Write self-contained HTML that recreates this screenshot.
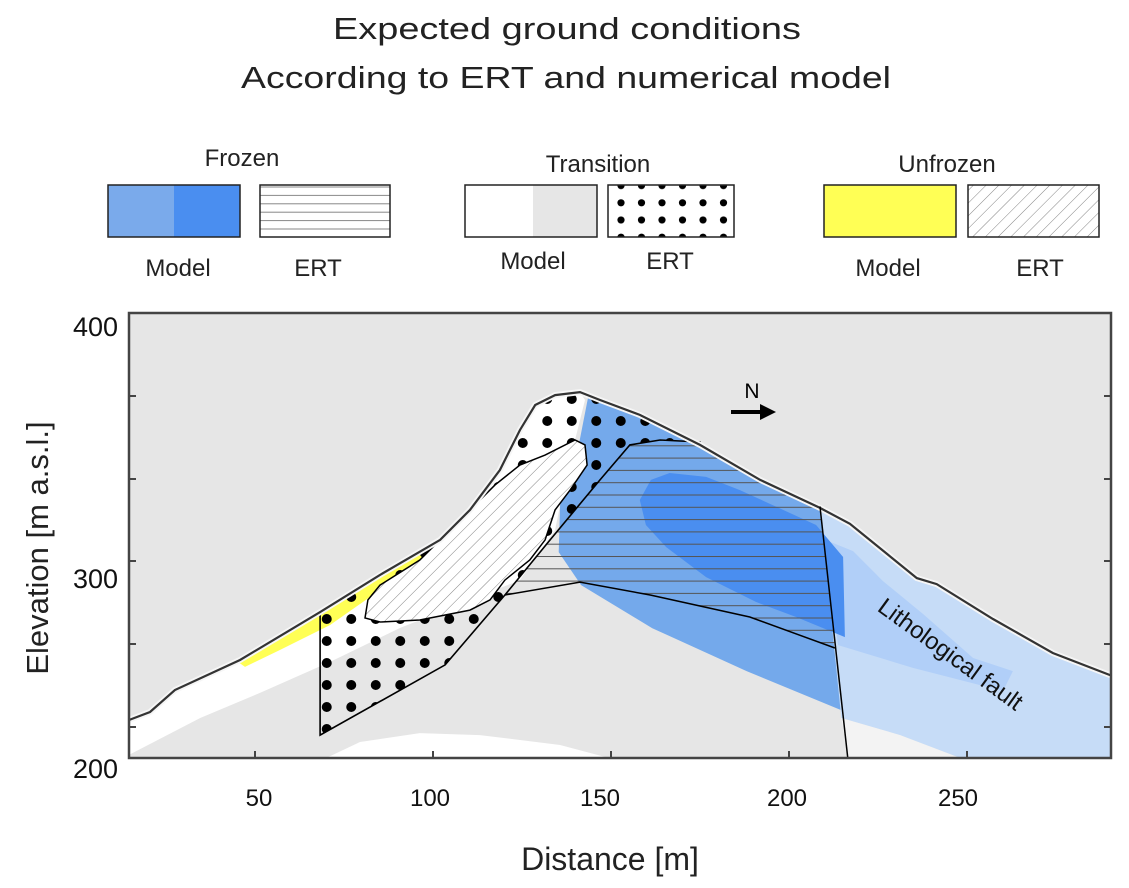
<!DOCTYPE html>
<html><head><meta charset="utf-8">
<style>
html,body{margin:0;padding:0;background:#fff;}
svg{display:block;font-family:"Liberation Sans",sans-serif;}
</style></head>
<body>
<svg id="fig" width="1129" height="888" viewBox="0 0 1129 888" xmlns="http://www.w3.org/2000/svg">
<defs>
  <pattern id="hl" patternUnits="userSpaceOnUse" width="8" height="12.3" y="2"><line x1="0" y1="1" x2="8" y2="1" stroke="#555" stroke-width="1"/></pattern>
  <pattern id="dg" patternUnits="userSpaceOnUse" width="9" height="9" patternTransform="rotate(45)"><line x1="0" y1="0" x2="0" y2="9" stroke="#777" stroke-width="0.9"/></pattern>
  <pattern id="dt" patternUnits="userSpaceOnUse" x="314.5" y="608" width="24.5" height="22"><circle cx="12.25" cy="11" r="5" fill="#000"/></pattern>
  <pattern id="dtl" patternUnits="userSpaceOnUse" x="611" y="177" width="20.5" height="17.2"><circle cx="10" cy="8.6" r="3.6" fill="#000"/></pattern>
  <pattern id="hll" patternUnits="userSpaceOnUse" width="8" height="8.4" y="186"><line x1="0" y1="1" x2="8" y2="1" stroke="#888" stroke-width="1"/></pattern>
</defs>

<text x="567" y="39" text-anchor="middle" font-size="31" fill="#222" textLength="468" lengthAdjust="spacingAndGlyphs">Expected ground conditions</text>
<text x="566" y="88" text-anchor="middle" font-size="31" fill="#222" textLength="650" lengthAdjust="spacingAndGlyphs">According to ERT and numerical model</text>

<g font-size="24" fill="#222">
  <text x="242" y="166" text-anchor="middle">Frozen</text>
  <g>
    <rect x="108" y="185" width="66" height="52" fill="#7aaaeb"/>
    <rect x="174" y="185" width="66" height="52" fill="#4a8ef0"/>
    <rect x="108" y="185" width="132" height="52" fill="none" stroke="#222" stroke-width="1.5"/>
  </g>
  <rect x="260" y="185" width="130" height="52" fill="url(#hll)" stroke="#222" stroke-width="1.5"/>
  <text x="178" y="276" text-anchor="middle">Model</text>
  <text x="318" y="276" text-anchor="middle">ERT</text>

  <text x="598" y="172" text-anchor="middle">Transition</text>
  <g>
    <rect x="465" y="185" width="68" height="52" fill="#fff"/>
    <rect x="533" y="185" width="64" height="52" fill="#e6e6e6"/>
    <rect x="465" y="185" width="132" height="52" fill="none" stroke="#222" stroke-width="1.5"/>
  </g>
  <rect x="608" y="185" width="126" height="52" fill="url(#dtl)" stroke="#222" stroke-width="1.5"/>
  <text x="533" y="269" text-anchor="middle">Model</text>
  <text x="670" y="269" text-anchor="middle">ERT</text>

  <text x="947" y="172" text-anchor="middle">Unfrozen</text>
  <rect x="824" y="185" width="132" height="52" fill="#ffff55" stroke="#222" stroke-width="1.5"/>
  <rect x="968" y="185" width="131" height="52" fill="url(#dg)" stroke="#222" stroke-width="1.5"/>
  <text x="888" y="276" text-anchor="middle">Model</text>
  <text x="1040" y="276" text-anchor="middle">ERT</text>
</g>

<g id="plot"></g>
</svg>
<script>
// distance [m], elevation [m]
const surface = [[14.6,235.9],[20.5,239.1],[27.5,248],[45.8,260.1],[68.3,279.4],[85.1,294.4],[102,308.5],[110.4,320.6],[118.8,336.7],[124.4,352.8],[128.7,362.9],[134.3,366.9],[141.3,368.1],[146.9,364.9],[158.1,358.9],[175,346.8],[191.9,332.7],[208.7,321.4],[217.1,315],[235.9,293.1],[241.5,290.7],[257.3,276.6],[274.1,262.9],[290.2,254],[293.5,252]];
const whiteBandBase = [[142.7,364.9],[137.1,332.7],[134.3,312.5],[124.4,292.3],[103.4,280.2],[90.7,273],[71.1,259.3],[51.4,246.8],[34.6,236.7],[14.6,221.8]];
const bottomLens = [[68.3,219.4],[79.5,227],[96.3,230.6],[113.2,229.8],[135.7,225.8],[152.5,219.4]];
const yellowZone = [[45.2,259.3],[68.3,279.4],[85.1,294.4],[102,308.5],[99.2,302.4],[85.1,288.3],[71.1,274.2],[57,264.1],[47.2,257.3]];
const mediumBlue = [[143.6,366.2],[146.9,364.9],[158.1,358.9],[175,346.8],[191.9,332.7],[208.7,320.6],[216.6,238.7],[188.1,255.6],[161.6,272.9],[141.6,290.3],[135.3,303.6],[135.7,322.6],[140.8,345.6]];
const lightBlue = [[208.7,321.4],[217.1,315],[235.9,293.1],[241.5,290.7],[257.3,276.6],[274.1,262.9],[290.2,254],[291.6,254],[291.6,220.6],[248,220.6],[231.2,229.8],[214.7,236.7]];
const midBand = [[209.5,308.9],[218,304],[226.4,291.9],[237.7,278.6],[251.7,260.9],[262.9,255.6],[260.1,247.6],[234.8,256.9],[213.8,266.1]];
const paleCorner = [[214.7,236.7],[231.2,229.8],[248,220.6],[216.6,220.6]];
const darkBlue = [[158.1,324.6],[161.2,332.7],[166.5,335.5],[176.7,333.9],[186.2,328.6],[207.6,314.5],[215.2,301.6],[215.7,269.3],[202,277.4],[190.7,283.5],[176.7,293.5],[165.5,305.6],[159.8,314.5]];
const ertFrozen = [[120.2,286.3],[132.9,308.5],[146.9,332.7],[155.3,346.8],[163.8,348.8],[175,348],[191.9,332.7],[208.7,322.6],[212.9,264.9],[189,277.4],[161,286.3],[141.3,291.5]];
const ertFrozenBase = [[120.2,286.3],[141.3,291.5],[161,286.3],[189,277.4],[212.9,264.9]];
const ertTransition = [[68.3,279.4],[68.3,229.8],[103.4,258.1],[120.2,286.3],[132.9,308.5],[146.9,332.7],[155.3,346.8],[163.8,348.8],[175,348],[175,346.8],[158.1,358.9],[146.9,364.9],[141.3,368.1],[134.3,366.9],[128.7,362.9],[124.4,352.8],[118.8,336.7],[110.4,320.6],[102,308.5],[85.1,294.4]];
const ertUnfrozen = [[80.9,277],[81.7,284.3],[85.1,290.3],[96.3,300.4],[104.8,312.5],[110.4,320.6],[117.4,330.6],[124.4,338.7],[131.5,342.7],[139.9,348.8],[142.7,346.8],[143.3,338.7],[138.5,328.6],[134.3,320.6],[131.5,308.5],[127.2,300.4],[120.2,292.3],[116,284.3],[110.4,280.2],[96.3,276.2],[85.1,275.4]];
const faultLine = [[208.7,322],[216.6,219.4]];
const xTickValues = [50,100,150,200,250];
const xTickLabels = ["50","100","150","200","250"];
const yTickLabels = ["400","300","200"];

const X0=129, X1=1111, Y0=313, Y1=758;
function X(d){ return 255 + (d-50)*3.56; }
function Y(e){ return 313 + (400-e)*2.48; }
function pts(a){ return a.map(p=>X(p[0]).toFixed(1)+','+Y(p[1]).toFixed(1)).join(' '); }
const NS='http://www.w3.org/2000/svg';
const g=document.getElementById('plot');
function add(tag,attrs,parent){ const el=document.createElementNS(NS,tag); for(const k in attrs) el.setAttribute(k,attrs[k]); (parent||g).appendChild(el); return el; }

const defs=document.querySelector('defs');
const cp=add('clipPath',{id:'frameclip'},defs); add('rect',{x:X0,y:Y0,width:X1-X0,height:Y1-Y0},cp);
const cg=add('g',{'clip-path':'url(#frameclip)'});

let el;
el=add('rect',{x:X0,y:Y0,width:X1-X0,height:Y1-Y0,fill:'#e6e6e6'},cg);



el=add('polygon',{points:pts(surface.filter(p=>p[0]<=142.7).concat(whiteBandBase)),fill:'#fff'},cg);


el=add('polygon',{points:pts(bottomLens),fill:'#fff'},cg);


el=add('polygon',{points:pts(yellowZone),fill:'#ffff55'},cg);


el=add('polygon',{points:pts(mediumBlue),fill:'#74a9eb'},cg);


el=add('polygon',{points:pts(lightBlue),fill:'#c6dcf7'},cg);


el=add('polygon',{points:pts(midBand),fill:'#b1cff8'},cg);


el=add('polygon',{points:pts(paleCorner),fill:'#f3f3f3'},cg);


el=add('polygon',{points:pts(darkBlue),fill:'#4a8ef0'},cg);


el=add('polygon',{points:pts(ertFrozen),fill:'url(#hl)'},cg);


el=add('polygon',{points:pts(ertTransition),fill:'url(#dt)',stroke:'#000','stroke-width':1.6},cg);


el=add('polyline',{points:pts(ertFrozenBase),fill:'none',stroke:'#000','stroke-width':1.5},cg);


el=add('polygon',{points:pts(ertUnfrozen),fill:'#fff',stroke:'none'},cg);


el=add('polygon',{points:pts(ertUnfrozen),fill:'url(#dg)',stroke:'#000','stroke-width':1.5},cg);


el=add('polyline',{points:pts(surface),fill:'none',stroke:'#f6f6f6','stroke-width':6},cg);


el=add('polyline',{points:pts(surface),fill:'none',stroke:'#333','stroke-width':2.2},cg);


el=add('line',{x1:X(faultLine[0][0]),y1:Y(faultLine[0][1]),x2:X(faultLine[1][0]),y2:Y(faultLine[1][1]),stroke:'#000','stroke-width':1.5},cg);



el=add('g',{});


add('line',{x1:731,y1:412,x2:763,y2:412,stroke:'#000','stroke-width':4},el);
add('polygon',{points:'760,404 776,412 760,420',fill:'#000'},el);
const nt=add('text',{x:752,y:398,'text-anchor':'middle','font-size':21,fill:'#000'},el);
nt.textContent='N';

el=add('text',{x:950,y:662,'text-anchor':'middle','font-size':24,fill:'#111',transform:'rotate(36 950 655)'});


el.textContent='Lithological fault';

el=add('rect',{x:X0,y:Y0,width:X1-X0,height:Y1-Y0,fill:'none',stroke:'#444','stroke-width':2.5});


xTickValues.forEach(v=>{
  const t=add('line',{x1:X(v),x2:X(v),y1:Y1,y2:Y1-7,stroke:'#444','stroke-width':2});
  
  
});
[396,479,561,644,727].forEach(yy=>{
  let t=add('line',{x1:X0,x2:X0+7,y1:yy,y2:yy,stroke:'#444','stroke-width':2});
  
  
  t=add('line',{x1:X1,x2:X1-7,y1:yy,y2:yy,stroke:'#444','stroke-width':2});
  
  
});
const xLabelPos=[259,430,600,787,958];
xTickLabels.forEach((s,i)=>{
  const t=add('text',{x:xLabelPos[i],y:806,'text-anchor':'middle','font-size':24,fill:'#111'});
  
  
  t.textContent=s;
});
const yLabelPos=[336,588,778];
yTickLabels.forEach((s,i)=>{
  const t=add('text',{x:118,y:yLabelPos[i],'text-anchor':'end','font-size':27,fill:'#111'});
  
  
  t.textContent=s;
});
el=add('text',{x:610,y:870,'text-anchor':'middle','font-size':32,fill:'#222'});


el.textContent='Distance [m]';
el=add('text',{x:48,y:548,'text-anchor':'middle','font-size':31,fill:'#222',transform:'rotate(-90 48 548)'});


el.textContent='Elevation [m a.s.l.]';
</script>
</body></html>
